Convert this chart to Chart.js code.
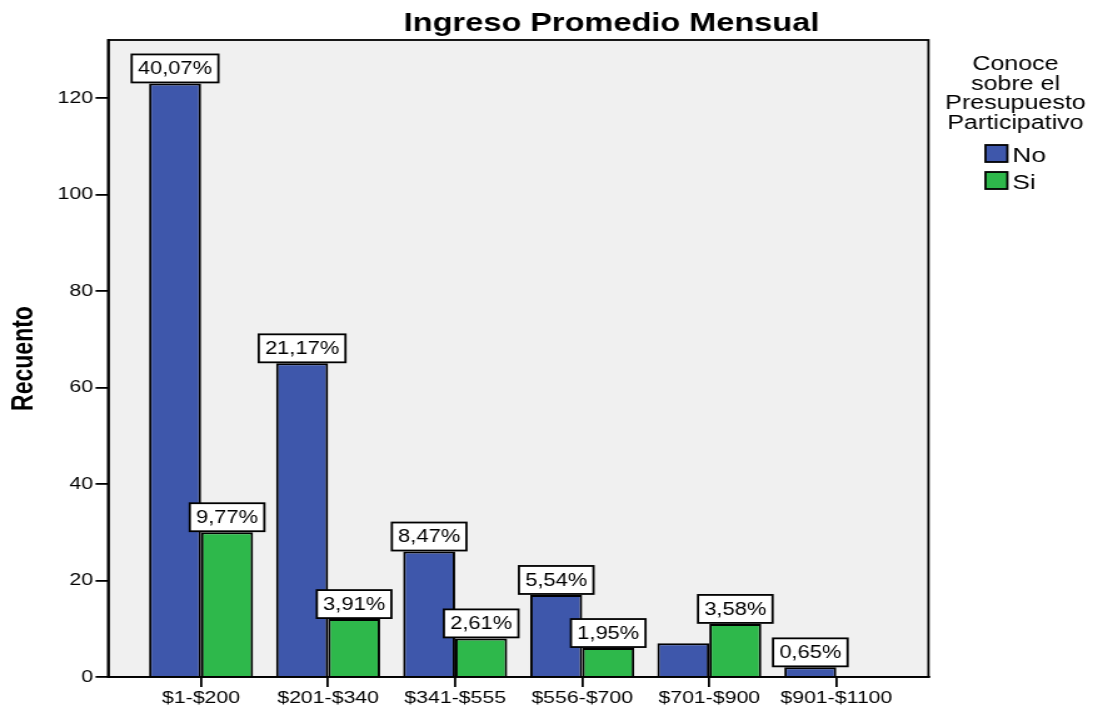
<!DOCTYPE html>
<html>
<head>
<meta charset="utf-8">
<script src="https://cdn.jsdelivr.net/npm/chart.js@4"></script>
<style>
  html, body { margin: 0; padding: 0; background: #fff; overflow: hidden; }
  #marco { width: 874px; height: 707px; transform: scaleX(1.2506); transform-origin: 0 0; }
</style>
</head>
<body>
<div id="marco"><canvas id="grafico" width="874" height="707"></canvas></div>
<script>
const categorias = ["$1-$200", "$201-$340", "$341-$555", "$556-$700", "$701-$900", "$901-$1100"];
const recuentoNo = [123, 65, 26, 17, 7, 2];
const recuentoSi = [30, 12, 8, 6, 11, 0];
const etiquetasNo = ["40,07%", "21,17%", "8,47%", "5,54%", "", "0,65%"];
const etiquetasSi = ["9,77%", "3,91%", "2,61%", "1,95%", "3,58%", ""];
const ticksY = [0, 20, 40, 60, 80, 100, 120];
const tituloLeyenda = ["Conoce", "sobre el", "Presupuesto", "Participativo"];

const FUENTE = "'Liberation Sans', Arial, sans-serif";

// fondo gris y marco negro del area de trazado
const fondoPlot = {
  id: "fondoPlot",
  beforeDraw(chart) {
    const { ctx, chartArea: a } = chart;
    ctx.save();
    ctx.fillStyle = "#f0f0f0";
    ctx.fillRect(a.left, a.top, a.right - a.left, a.bottom - a.top);
    ctx.restore();
  },
  afterDatasetsDraw(chart) {
    const { ctx, chartArea: a } = chart;
    ctx.save();
    ctx.strokeStyle = "#000";
    ctx.lineWidth = 1.8;
    ctx.strokeRect(a.left, a.top, a.right - a.left, a.bottom - a.top);
    ctx.restore();
  }
};

// cajas blancas con porcentajes sobre las barras
const etiquetas = {
  id: "etiquetas",
  afterDatasetsDraw(chart) {
    const ctx = chart.ctx;
    ctx.save();
    ctx.font = "17.5px " + FUENTE;
    chart.data.datasets.forEach((ds, i) => {
      chart.getDatasetMeta(i).data.forEach((bar, j) => {
        const txt = ds.etiquetas[j];
        if (!txt) return;
        const w = ctx.measureText(txt).width + 10;
        const h = 28;
        const x = bar.x - w / 2;
        const y = bar.y - h - 1;
        ctx.fillStyle = "#fff";
        ctx.fillRect(x, y, w, h);
        ctx.strokeStyle = "#000";
        ctx.lineWidth = 1.8;
        ctx.strokeRect(x, y, w, h);
        ctx.fillStyle = "#000";
        ctx.textAlign = "center";
        ctx.textBaseline = "middle";
        ctx.fillText(txt, bar.x, y + h / 2 + 1);
      });
    });
    ctx.restore();
  }
};

// titulo y leyenda
const tituloYLeyenda = {
  id: "tituloYLeyenda",
  afterDraw(chart) {
    const ctx = chart.ctx;
    ctx.save();
    ctx.fillStyle = "#000";
    ctx.textAlign = "center";
    ctx.textBaseline = "alphabetic";
    ctx.font = "bold 26px " + FUENTE;
    ctx.fillText("Ingreso Promedio Mensual", 489, 31);

    ctx.font = "20px " + FUENTE;
    tituloLeyenda.forEach((linea, k) => {
      ctx.fillText(linea, 812, 70 + k * 19.5);
    });

    ctx.textAlign = "left";
    ctx.font = "21px " + FUENTE;
    chart.data.datasets.forEach((ds, k) => {
      const y = 145 + k * 27;
      ctx.fillStyle = ds.backgroundColor;
      ctx.fillRect(788, y, 17.5, 17);
      ctx.strokeStyle = "#000";
      ctx.lineWidth = 1.8;
      ctx.strokeRect(788, y, 17.5, 17);
      ctx.fillStyle = "#000";
      ctx.fillText(ds.label, 809.5, y + 17);
    });
    ctx.restore();
  }
};

new Chart(document.getElementById("grafico"), {
  type: "bar",
  data: {
    datasets: [
      {
        label: "No",
        data: recuentoNo.map((v, i) => ({ x: i, y: v })),
        etiquetas: etiquetasNo,
        backgroundColor: "#3e57ab",
        borderColor: "#000",
        borderWidth: 2,
        borderSkipped: "bottom"
      },
      {
        label: "Si",
        data: recuentoSi.map((v, i) => ({ x: i, y: v })),
        etiquetas: etiquetasSi,
        backgroundColor: "#2eb84b",
        borderColor: "#000",
        borderWidth: 2,
        borderSkipped: "bottom"
      }
    ]
  },
  options: {
    responsive: false,
    animation: false,
    devicePixelRatio: 1,
    layout: { padding: { top: 40, right: 131.6, bottom: 0, left: 0 } },
    datasets: { bar: { categoryPercentage: 0.819, barPercentage: 1 } },
    plugins: {
      legend: { display: false },
      title: { display: false },
      tooltip: { enabled: false }
    },
    scales: {
      x: {
        type: "linear",
        offset: false,
        min: -0.732,
        max: 5.725,
        afterBuildTicks: s => { s.ticks = categorias.map((c, i) => ({ value: i })); },
        afterFit: s => { s.height = 30; },
        grid: { offset: false, drawOnChartArea: false, drawTicks: true, tickLength: 10, color: "#000", lineWidth: 1.8 },
        border: { display: true, color: "#000", width: 1.8 },
        ticks: {
          callback: (v, i) => categorias[i],
          color: "#000",
          font: { family: FUENTE, size: 17 },
          padding: 1,
          autoSkip: false,
          maxRotation: 0
        }
      },
      y: {
        min: 0,
        max: 132,
        afterBuildTicks: s => { s.ticks = ticksY.map(v => ({ value: v })); },
        afterFit: s => { s.width = 86.4; },
        grid: { drawOnChartArea: false, drawTicks: true, tickLength: 10, color: "#000", lineWidth: 1.8 },
        border: { display: true, color: "#000", width: 1.8 },
        ticks: {
          color: "#000",
          font: { family: FUENTE, size: 17 },
          padding: 2
        },
        title: {
          display: true,
          text: "Recuento",
          color: "#000",
          font: { family: FUENTE, size: 23, weight: "bold" },
          padding: { top: 6, bottom: 0 }
        }
      }
    }
  },
  plugins: [fondoPlot, etiquetas, tituloYLeyenda]
});
</script>
</body>
</html>
